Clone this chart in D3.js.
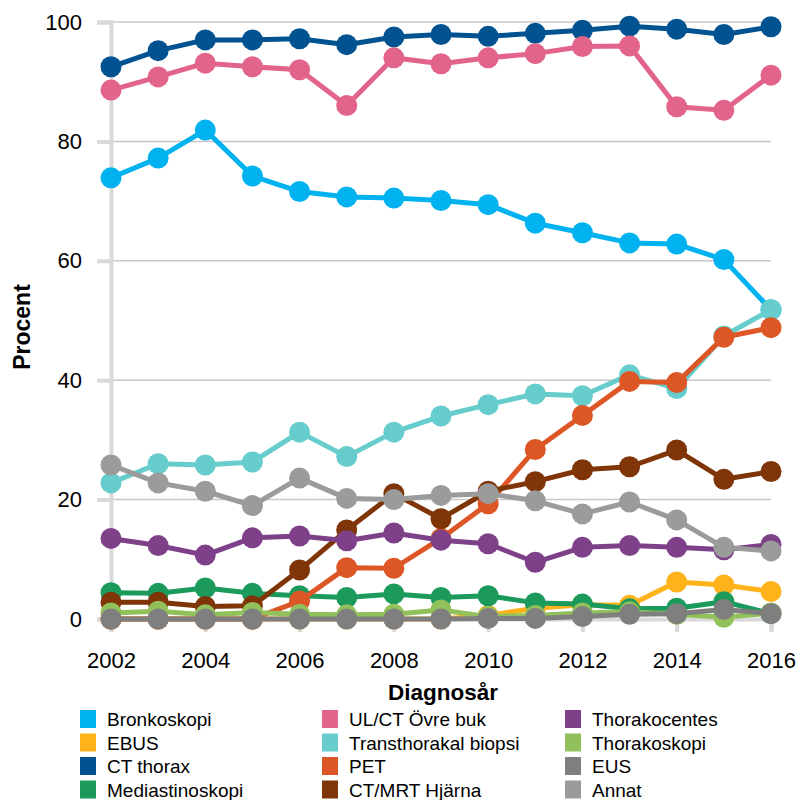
<!DOCTYPE html>
<html>
<head>
<meta charset="utf-8">
<script src="https://cdn.jsdelivr.net/npm/d3@7"></script>
<style>
  body { margin: 0; background: #fff; }
  svg { font-family: "Liberation Sans", Arial, sans-serif; }
</style>
</head>
<body>
<svg id="svg" width="800" height="800"></svg>
<script>
// years on the x axis
const years = d3.range(2002, 2017);
const yTicks = [0, 20, 40, 60, 80, 100];
const xTicks = [2002, 2004, 2006, 2008, 2010, 2012, 2014, 2016];

// series names in legend order (column by column)
const names = [
  "Bronkoskopi", "EBUS", "CT thorax", "Mediastinoskopi",
  "UL/CT Övre buk", "Transthorakal biopsi", "PET", "CT/MRT Hjärna",
  "Thorakocentes", "Thorakoskopi", "EUS", "Annat"
];
const colors = [
  "#00b2f0", "#ffb21a", "#005291", "#1b9a5c",
  "#e3648a", "#66cdcc", "#dc5626", "#7f3508",
  "#7e4189", "#92c05a", "#7f7f7f", "#9b9b9b"
];

// percent values per year, 2002..2016
const bronkoskopi = [73.9, 77.2, 81.9, 74.2, 71.6, 70.7, 70.5, 70.1, 69.4, 66.3, 64.7, 63.0, 62.8, 60.2, 51.8];
const ebus        = [0, 0, 0, 0, 0, 0, 0, 0, 0.6, 1.8, 2.4, 2.3, 6.2, 5.7, 4.6];
const ctThorax    = [92.5, 95.2, 97.0, 97.0, 97.2, 96.2, 97.5, 97.9, 97.6, 98.1, 98.6, 99.3, 98.8, 97.9, 99.2];
const mediastino  = [4.4, 4.3, 5.2, 4.3, 3.9, 3.6, 4.2, 3.6, 3.9, 2.7, 2.5, 1.7, 1.8, 2.9, 0.9];
const ulct        = [88.6, 90.8, 93.1, 92.5, 92.0, 86.0, 94.0, 93.0, 94.0, 94.7, 95.9, 96.0, 85.8, 85.2, 91.1];
const transthor   = [22.8, 26.0, 25.8, 26.3, 31.3, 27.2, 31.3, 34.0, 35.9, 37.7, 37.4, 40.9, 38.6, 47.4, 51.8];
const pet         = [0, 0, 0, 0, 3.0, 8.6, 8.5, 13.5, 19.3, 28.4, 34.1, 39.8, 39.6, 47.2, 48.8];
const ctmrt       = [2.8, 2.8, 2.1, 2.2, 8.2, 14.9, 21.0, 16.8, 21.4, 23.0, 25.0, 25.5, 28.3, 23.4, 24.7];
const thorakocent = [13.5, 12.3, 10.7, 13.6, 13.9, 13.1, 14.4, 13.2, 12.6, 9.5, 12.0, 12.3, 12.0, 11.6, 12.5];
const thorakoskop = [1.0, 1.3, 0.7, 1.1, 0.8, 0.7, 0.8, 1.5, 0.4, 0.6, 1.0, 1.2, 0.8, 0.3, 1.0];
const eus         = [0, 0, 0, 0, 0, 0, 0, 0, 0.1, 0.1, 0.4, 0.8, 0.9, 1.6, 0.9];
const annat       = [25.8, 22.8, 21.4, 19.0, 23.6, 20.2, 20.0, 20.7, 21.0, 19.8, 17.6, 19.6, 16.6, 12.0, 11.4];

const seriesValues = [
  bronkoskopi, ebus, ctThorax, mediastino,
  ulct, transthor, pet, ctmrt,
  thorakocent, thorakoskop, eus, annat
];

const svg = d3.select("#svg");

const margins = { top: 22, right: 29, bottom: 181, left: 111 };
const chartWidth = 800 - margins.left - margins.right;
const chartHeight = 800 - margins.top - margins.bottom;

const xScale = d3.scaleLinear()
  .domain([2002, 2016])
  .range([0, chartWidth]);

const yScale = d3.scaleLinear()
  .domain([0, 100])
  .range([chartHeight, 0]);

const g = svg.append("g")
  .attr("transform", `translate(${margins.left},${margins.top})`);

// horizontal gridlines
g.append("g")
  .selectAll("line")
  .data(yTicks.filter(d => d > 0))
  .join("line")
  .attr("x1", 0)
  .attr("x2", chartWidth)
  .attr("y1", d => yScale(d))
  .attr("y2", d => yScale(d))
  .attr("stroke", "#c8c8c8")
  .attr("stroke-width", 1.5);

// y axis
const yAxis = d3.axisLeft(yScale).tickValues(yTicks).tickSize(14).tickPadding(15);
const yG = g.append("g").call(yAxis);
yG.select(".domain").attr("stroke", "#d9d9d9").attr("stroke-width", 4);
yG.selectAll(".tick line").attr("stroke", "#d9d9d9").attr("stroke-width", 4);
yG.selectAll(".tick text")
  .attr("font-size", 22)
  .attr("fill", "#000");

// x axis
const xAxis = d3.axisBottom(xScale)
  .tickValues(xTicks)
  .tickFormat(d3.format("d"))
  .tickSize(13)
  .tickPadding(20);
const xG = g.append("g")
  .attr("transform", `translate(0,${chartHeight})`)
  .call(xAxis);
xG.select(".domain").attr("stroke", "#d9d9d9").attr("stroke-width", 4);
xG.selectAll(".tick line").attr("stroke", "#d9d9d9").attr("stroke-width", 4);
xG.selectAll(".tick text")
  .attr("font-size", 22)
  .attr("fill", "#000");

// axis titles
svg.append("text")
  .attr("transform", `translate(30,327) rotate(-90)`)
  .attr("text-anchor", "middle")
  .attr("font-size", 23)
  .attr("font-weight", "bold")
  .text("Procent");

svg.append("text")
  .attr("x", 443)
  .attr("y", 700)
  .attr("text-anchor", "middle")
  .attr("font-size", 22.5)
  .attr("font-weight", "bold")
  .text("Diagnosår");

// lines and markers
const line = d3.line()
  .x((d, i) => xScale(years[i]))
  .y(d => yScale(d));

seriesValues.forEach((vals, k) => {
  const s = g.append("g");
  s.append("path")
    .datum(vals)
    .attr("fill", "none")
    .attr("stroke", colors[k])
    .attr("stroke-width", 5)
    .attr("stroke-linejoin", "round")
    .attr("d", line);
  s.selectAll("circle")
    .data(vals)
    .join("circle")
    .attr("cx", (d, i) => xScale(years[i]))
    .attr("cy", d => yScale(d))
    .attr("r", 10.5)
    .attr("fill", colors[k]);
});

// legend, 3 columns of 4
const legendX = [80, 322, 565];
const legendY = 719;
const rowH = 23.5;
const legend = svg.append("g");
names.forEach((name, k) => {
  const col = Math.floor(k / 4);
  const row = k % 4;
  const item = legend.append("g")
    .attr("transform", `translate(${legendX[col]},${legendY + row * rowH})`);
  item.append("rect")
    .attr("x", 0)
    .attr("y", -9)
    .attr("width", 16)
    .attr("height", 18)
    .attr("fill", colors[k]);
  item.append("text")
    .attr("x", 27)
    .attr("y", 7)
    .attr("font-size", 19)
    .attr("fill", "#000")
    .text(name);
});
</script>
</body>
</html>
